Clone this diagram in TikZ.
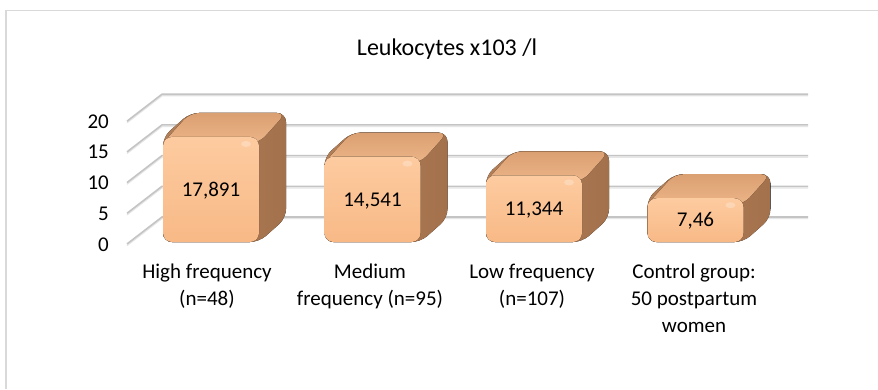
\documentclass[tikz,border=0pt]{standalone}
\usepackage{fontspec}
\setmainfont{Carlito}
\definecolor{gridc}{HTML}{C4C4C4}
\definecolor{gridl}{HTML}{E6E6E6}
\definecolor{framec}{HTML}{D9D9D9}
\definecolor{frontc}{HTML}{F8B986}
\definecolor{frontl}{HTML}{FDCBA0}
\definecolor{topc}{HTML}{DBA072}
\definecolor{topl}{HTML}{EBB487}
\definecolor{sidec}{HTML}{B27F58}
\definecolor{sided}{HTML}{A3714C}
\begin{document}
\begin{tikzpicture}[x=1pt,y=-1pt,
  lab/.style={font=\fontsize{21}{27}\selectfont, inner sep=0pt},
  gridline/.style={draw=gridc, line width=1.6pt},
  gridshadow/.style={draw=gridl, line width=1.2pt}]
\useasboundingbox (0,0) rectangle (878,389);
\fill[white] (0,0) rectangle (878,389);
\coordinate (fbl) at (6,389);
\coordinate (ftl) at (6,10.5);
\coordinate (ftr) at (878,10.5);
\draw[framec, line width=1.2pt] (fbl) -- (ftl) -- (ftr);
\node[font=\fontsize{24}{29}\selectfont, anchor=base, inner sep=0pt] (title) at (447,55) {Leukocytes x103 /l};
% gridlines and axis labels
\foreach \k/\n in {0/0,1/5,2/10,3/15,4/20}{
  \pgfmathsetmacro\yb{217-30.7*\k}
  \pgfmathsetmacro\yf{244-30.7*\k}
  \coordinate (gf\k) at (127,\yf);
  \coordinate (gb\k) at (162,\yb);
  \coordinate (ge\k) at (808,\yb);
  \draw[gridshadow] ([yshift=-1.6pt]gf\k) -- ([yshift=-1.6pt]gb\k) -- ([yshift=-1.6pt]ge\k);
  \draw[gridline] (gf\k) -- (gb\k) -- (ge\k);
  \node[lab, anchor=base east] (ax\k) at (109,\yf+7) {\n};
}
% bars
\foreach \i/\v/\t in {0/17.891/{17,891},1/14.541/{14,541},2/11.344/{11,344},3/7.46/{7,46}}{
  \pgfmathsetmacro\xa{163+161.5*\i}
  \pgfmathsetmacro\xb{\xa+96}
  \pgfmathsetmacro\yt{242-5.87*\v}
  \fill[left color=sidec, right color=sided, rounded corners=9pt]
    (\xa,242) -- (\xa,\yt) -- (\xa+27,\yt-24) -- (\xb+27,\yt-24) -- (\xb+27,218) -- (\xb,242) -- cycle;
  \fill[bottom color=topl, top color=topc, rounded corners=9pt]
    (\xa,\yt+6) -- (\xa+27,\yt-24) -- (\xb+27,\yt-24) -- (\xb,\yt+6) -- cycle;
  \fill[top color=frontl, bottom color=frontc, rounded corners=9pt]
    (\xa,\yt) rectangle (\xb,242);
  \fill[white, opacity=0.25] (\xb-13,\yt+7) ellipse (5pt and 3pt);
  \node[lab, anchor=base] (v\i) at ({(\xa+\xb)/2},{(\yt+242)/2+6.7}) {\t};
}
% category labels
\node[lab, anchor=base] (c1a) at (207,278) {High frequency};
\node[lab, anchor=base] (c1b) at (207,305) {(n=48)};
\node[lab, anchor=base] (c2a) at (370,278) {Medium};
\node[lab, anchor=base] (c2b) at (370,305) {frequency (n=95)};
\node[lab, anchor=base] (c3a) at (532,278) {Low frequency};
\node[lab, anchor=base] (c3b) at (532,305) {(n=107)};
\node[lab, anchor=base] (c4a) at (694,278) {Control group:};
\node[lab, anchor=base] (c4b) at (694,305) {50 postpartum};
\node[lab, anchor=base] (c4c) at (694,332) {women};
\end{tikzpicture}
\end{document}
